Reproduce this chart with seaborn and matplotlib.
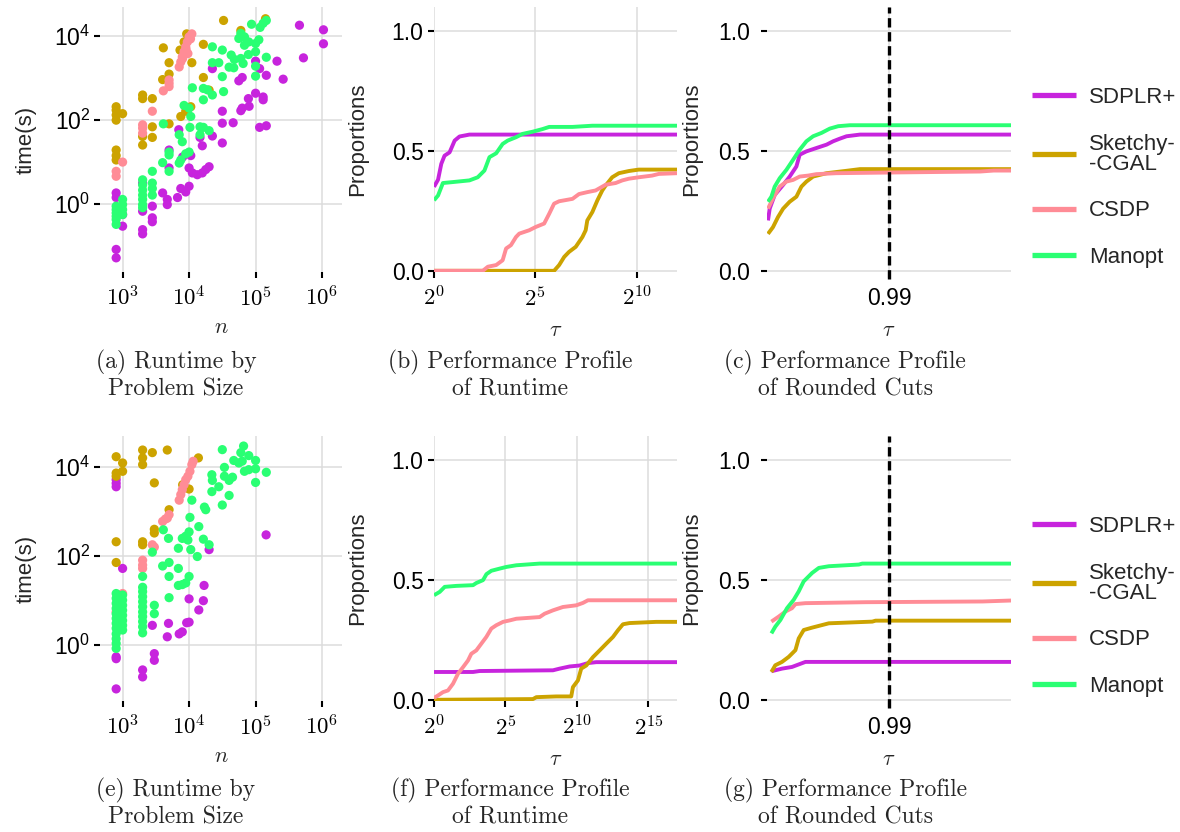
import numpy as np
import pandas as pd
import matplotlib
matplotlib.use("Agg")
import matplotlib.pyplot as plt
import seaborn as sns
from matplotlib.lines import Line2D
from matplotlib.ticker import FixedLocator, NullLocator

# ---------------------------------------------------------------- solvers
SOLVERS = ["SDPLR+", "Sketchy-CGAL", "CSDP", "Manopt"]
LEGEND_LABELS = ["SDPLR+", "Sketchy-\n-CGAL", "CSDP", "Manopt"]
COLORS = ["#C724DD", "#CCA300", "#FF8C96", "#2AFF73"]

# ------------------------------------------------- top row: runtime vs n
top_sdplr_n = [800, 800, 1000, 1000, 800, 800, 2000, 2000, 2000, 2000, 2800, 2800, 2800,
               4000, 4700, 4700, 5000, 5000, 7000, 8000, 10600, 10000, 7500, 8900, 10000, 6700,
               11200, 13300, 15800, 17800, 20000, 15800, 14600, 22400, 22400, 31600, 31600, 31600,
               457000, 1050000, 1050000, 525000, 210000, 100000, 115000, 145000, 260000, 63000,
               56000, 100000, 78000, 130000, 130000, 80000, 63000, 60000, 46000, 115000, 145000]
top_sdplr_t = [1.8, 1.4, 0.55, 0.29, 0.081, 0.051, 3.1, 0.66, 0.24, 0.19, 0.87, 0.46, 0.37,
               1.8, 1.26, 0.95, 19, 7.1, 58, 13, 14, 7.1, 2.3, 1.9, 2.6, 1.4,
               5.4, 4.9, 5.4, 6.5, 7.6, 24, 38, 41, 1660, 160, 83, 28,
               18000, 14000, 6500, 3000, 2500, 2500, 1660, 1150, 930, 1020,
               850, 430, 320, 350, 300, 210, 190, 165, 85, 66, 72]

top_sketchy_n = [800, 800, 800, 800, 800, 800, 800, 1000, 2000, 2000, 2000, 2000,
                 2800, 2800, 2800, 4100, 5000, 5000, 4000, 5000, 7300, 8400, 9200, 7500,
                 8900, 11000, 10600, 16400, 16400, 20000, 33000, 60000, 141000]
top_sketchy_t = [205, 170, 130, 98, 19, 14, 11, 140, 390, 320, 40, 25,
                 320, 68, 38, 5200, 2300, 1230, 910, 80, 4600, 7200, 11200, 120,
                 160, 2300, 205, 6300, 1020, 510, 23400, 13500, 25700]

top_csdp_n = [800, 800, 1000, 2000, 2000, 2000, 2800, 5000, 5000, 5000, 4100,
              7100, 7500, 7900, 8000, 8400, 8900, 9000, 9400, 9600, 10000, 10500, 11000]
top_csdp_t = [5.9, 4.5, 9.8, 76, 63, 48, 160, 890, 740, 620, 490,
              1820, 2400, 3160, 2900, 4200, 5500, 4800, 7200, 3800, 9500, 8500, 11200]

top_manopt_n = [800, 800, 800, 800, 800, 800, 1000, 1000, 1000, 1000,
                2000, 2000, 2000, 2000, 2000, 2000, 2000, 2800, 2800, 2800, 2800,
                4100, 5000, 5000, 4000, 5000, 8400, 10000, 10600, 10300, 7100, 7900, 7500,
                8900, 10000, 7100, 22400, 16400, 11200, 16400, 22400, 18800, 14600, 16400,
                20000, 14600, 22400, 28000, 31600, 31600, 87000, 117000, 130000, 145000,
                60000, 68000, 56000, 79000, 68000, 112000, 100000, 100000, 78000, 145000,
                43000, 48000, 60000, 65000, 40000, 47000, 100000, 100000, 33000]
top_manopt_t = [0.87, 0.72, 0.6, 0.5, 0.42, 0.32, 1.26, 0.95, 0.72, 0.55,
                3.7, 2.8, 2.1, 1.6, 1.26, 0.95, 0.8, 5.9, 3.1, 2.3, 1.6,
                80, 17, 14.5, 9.5, 5.9, 220, 190, 120, 66, 44, 30, 11,
                15.5, 17, 9.3, 5500, 560, 580, 300, 390, 520, 68, 66,
                55, 44, 2300, 2300, 4600, 1070, 19000, 16000, 20000, 23400,
                11500, 9500, 8700, 7200, 6000, 8100, 6600, 4200, 3600, 3100,
                3500, 2750, 2900, 2200, 1800, 1740, 1900, 1100, 470]

# ---------------------------------------------- bottom row: runtime vs n
bot_sdplr_n = [800, 800, 800, 1000, 800, 800, 800, 2000, 2000, 3000, 3000, 2800, 4900, 4700,
               7100, 7900, 9200, 10000, 10000, 14000, 16400, 16800, 20000, 144000]
bot_sdplr_t = [5200, 4300, 3600, 53, 0.55, 0.5, 0.105, 0.28, 0.195, 0.65, 0.46, 2.8, 3.1, 1.55,
               1.8, 2.0, 3.2, 3.3, 11, 6.2, 10, 22, 140, 300]

bot_sketchy_n = [800, 800, 800, 1000, 1000, 800, 800, 2000, 2000, 2000, 2800, 4700, 3000,
                 2000, 2000, 3000, 3000, 5000, 8000, 10000, 13800]
bot_sketchy_t = [17000, 7300, 6200, 12300, 8000, 210, 72, 24000, 16000, 11300, 21000, 24000, 4400,
                 210, 180, 400, 330, 1100, 4000, 3200, 16000]

bot_csdp_n = [1000, 800, 2000, 2000, 2000, 2800, 3000, 4000, 4400, 5000, 4700,
              7100, 7500, 7900, 8400, 8900, 9600, 10300, 11000, 11500]
bot_csdp_t = [14.5, 5.6, 81, 63, 53, 180, 160, 600, 680, 850, 710,
              1800, 2400, 3100, 4000, 5200, 6200, 8000, 11300, 13400]

bot_manopt_n = [800] * 12 + [1000] * 8 + [2000] * 11 + [3000, 3000, 2800,
                4100, 4900, 4000, 5000, 5000, 5000, 6900, 7900, 8900, 10000, 10600, 9600,
                6900, 6900, 7900, 8900, 10000, 10300, 11000, 14000, 16400, 13300, 20000,
                17800, 17000, 22000, 22400, 22000, 28000, 31600, 31600, 66000, 60000, 79000,
                47000, 56000, 63000, 100000, 79000, 68000, 100000, 145000, 34000, 34000,
                45000, 40000, 100000, 40000]
bot_manopt_t = [14.5, 11.3, 8.7, 6.7, 5.1, 4.0, 3.1, 2.4, 1.8, 1.4, 1.1, 0.85,
                13.4, 10.3, 7.9, 6.1, 4.7, 3.6, 2.8, 2.2,
                35, 20, 16, 12.3, 9.5, 7.3, 5.6, 4.4, 3.4, 2.6, 1.9,
                7.9, 5.1, 123, 390, 250, 60, 72, 35, 11.7, 150, 250, 280, 350, 140, 230,
                53, 22, 23, 25, 35, 740, 1800, 460, 240, 98, 180,
                1100, 1260, 6700, 5000, 2800, 3600, 24500, 1400, 29500, 21000, 18000,
                14000, 12300, 13500, 14000, 8700, 8000, 9100, 7600, 9800, 6200,
                5900, 5000, 4500, 2300]

# ------------------------------- performance profiles of runtime (log2 tau)
b_sdplr_x = [0, 0.2, 0.36, 0.52, 0.77, 1.02, 1.26, 1.75, 12]
b_sdplr_y = [0.35, 0.38, 0.446, 0.48, 0.494, 0.543, 0.56, 0.568, 0.568]
b_sketchy_x = [0, 5.93, 6.18, 6.43, 6.67, 7.0, 7.33, 7.49, 7.57, 7.82, 8.07, 8.31, 8.48, 8.8,
               9.13, 9.62, 10.11, 12]
b_sketchy_y = [0, 0, 0.024, 0.058, 0.079, 0.1, 0.141, 0.169, 0.21, 0.245, 0.294, 0.335, 0.356,
               0.39, 0.407, 0.416, 0.422, 0.422]
b_csdp_x = [0, 2.41, 2.66, 3.07, 3.39, 3.56, 3.8, 4.05, 4.21, 4.7, 5.03, 5.44, 5.69, 5.93, 6.18,
            6.84, 7.16, 7.57, 7.98, 8.48, 8.97, 9.3, 9.62, 10.11, 10.77, 11.1, 12]
b_csdp_y = [0, 0, 0.017, 0.024, 0.044, 0.093, 0.107, 0.141, 0.155, 0.169, 0.183, 0.197, 0.238,
            0.28, 0.29, 0.3, 0.32, 0.328, 0.335, 0.359, 0.366, 0.377, 0.384, 0.39, 0.397, 0.404, 0.407]
b_manopt_x = [0, 0.2, 0.44, 0.93, 1.75, 2.16, 2.49, 2.74, 3.07, 3.39, 3.64, 4.05, 4.38, 4.87,
              5.36, 5.69, 6.84, 7.82, 12]
b_manopt_y = [0.294, 0.314, 0.366, 0.37, 0.377, 0.39, 0.418, 0.474, 0.49, 0.529, 0.543, 0.557,
              0.571, 0.58, 0.591, 0.6, 0.6, 0.605, 0.605]

f_sdplr_x = [0, 2.73, 3.19, 8.32, 8.79, 9.49, 10.19, 10.77, 11.35, 17]
f_sdplr_y = [0.116, 0.116, 0.12, 0.123, 0.13, 0.139, 0.143, 0.153, 0.157, 0.157]
f_sketchy_x = [0, 6.92, 7.16, 8.55, 9.6, 9.72, 10.07, 10.3, 10.65, 11.12, 11.59, 12.05, 12.52,
               12.87, 13.22, 13.68, 15.55, 17]
f_sketchy_y = [0, 0.003, 0.011, 0.014, 0.014, 0.053, 0.081, 0.13, 0.143, 0.178, 0.206, 0.234,
               0.262, 0.29, 0.315, 0.32, 0.325, 0.325]
f_csdp_x = [0, 0.28, 0.63, 0.98, 1.33, 1.68, 2.03, 2.38, 2.61, 2.96, 3.31, 3.66, 4.01, 4.36,
            4.83, 5.29, 5.76, 6.46, 7.39, 7.74, 8.32, 9.02, 9.95, 10.42, 10.77, 17]
f_csdp_y = [0.008, 0.018, 0.032, 0.039, 0.067, 0.109, 0.136, 0.164, 0.192, 0.206, 0.234, 0.262,
            0.297, 0.311, 0.325, 0.331, 0.338, 0.341, 0.345, 0.359, 0.373, 0.387, 0.394, 0.404,
            0.415, 0.415]
f_manopt_x = [0, 0.4, 0.75, 1.56, 2.73, 2.96, 3.43, 3.67, 4.01, 4.59, 5.06, 5.76, 6.69, 7.39, 17]
f_manopt_y = [0.436, 0.45, 0.471, 0.475, 0.478, 0.487, 0.499, 0.524, 0.538, 0.547, 0.554, 0.561,
              0.565, 0.568, 0.568]

# ------------------------------- performance profiles of rounded cuts
c_sdplr_x = [0.98008, 0.98022, 0.98063, 0.98132, 0.98186, 0.98241, 0.98268, 0.98323, 0.98405,
             0.98488, 0.98542, 0.98597, 0.98652, 0.98762, 1.0]
c_sdplr_y = [0.21, 0.259, 0.316, 0.358, 0.393, 0.435, 0.484, 0.498, 0.512, 0.526, 0.54, 0.551,
             0.561, 0.568, 0.568]
c_sketchy_x = [0.98008, 0.98049, 0.9809, 0.98132, 0.98186, 0.98241, 0.98282, 0.98323, 0.98378,
               0.98488, 0.98652, 0.98762, 1.0]
c_sketchy_y = [0.154, 0.182, 0.224, 0.259, 0.288, 0.309, 0.351, 0.372, 0.393, 0.407, 0.417,
               0.424, 0.424]
c_csdp_x = [0.98008, 0.98049, 0.98104, 0.98159, 0.98214, 0.98268, 0.98337, 0.98405, 0.9857,
            0.99036, 0.99748, 0.99858, 1.0]
c_csdp_y = [0.259, 0.302, 0.351, 0.372, 0.379, 0.393, 0.397, 0.403, 0.407, 0.41, 0.414, 0.418, 0.418]
c_manopt_x = [0.98008, 0.98036, 0.98063, 0.98104, 0.98159, 0.98214, 0.98268, 0.98323, 0.98378,
              0.98447, 0.98515, 0.98584, 0.98679, 1.0]
c_manopt_y = [0.288, 0.309, 0.351, 0.386, 0.421, 0.463, 0.505, 0.54, 0.561, 0.575, 0.593, 0.603,
              0.607, 0.607]

g_sdplr_x = [0.98036, 0.98123, 0.98205, 0.98315, 1.0]
g_sdplr_y = [0.119, 0.13, 0.137, 0.158, 0.158]
g_sketchy_x = [0.98036, 0.98068, 0.98123, 0.98178, 0.98233, 0.9826, 0.98301, 0.9837, 0.98507,
               0.98863, 0.9889, 1.0]
g_sketchy_y = [0.116, 0.144, 0.158, 0.179, 0.207, 0.256, 0.291, 0.301, 0.319, 0.326, 0.33, 0.33]
g_csdp_x = [0.98036, 0.98096, 0.98151, 0.98205, 0.98233, 0.98315, 0.98808, 0.99767, 1.0]
g_csdp_y = [0.326, 0.347, 0.368, 0.382, 0.399, 0.403, 0.407, 0.41, 0.414]
g_manopt_x = [0.98036, 0.98068, 0.9811, 0.98164, 0.98219, 0.9826, 0.98301, 0.9837, 0.98425,
              0.98507, 0.98753, 0.98781, 1.0]
g_manopt_y = [0.277, 0.305, 0.333, 0.382, 0.417, 0.452, 0.494, 0.529, 0.55, 0.557, 0.564, 0.568,
              0.568]

# tick labels
SIZE_TICKS = [1e3, 1e4, 1e5, 1e6]
SIZE_LABELS = [r"$10^{3}$", r"$10^{4}$", r"$10^{5}$", r"$10^{6}$"]
TIME_TICKS = [1e0, 1e2, 1e4]
TIME_LABELS = [r"$10^{0}$", r"$10^{2}$", r"$10^{4}$"]
PROP_TICKS = [0.0, 0.5, 1.0]
PROP_LABELS = ["0.0", "0.5", "1.0"]
CUT_TICKS = [0.99]
CUT_LABELS = ["0.99"]
CAPTIONS = [
    "(a) Runtime by\nProblem Size", "(b) Performance Profile\nof Runtime",
    "(c) Performance Profile\nof Rounded Cuts",
    "(e) Runtime by\nProblem Size", "(f) Performance Profile\nof Runtime",
    "(g) Performance Profile\nof Rounded Cuts",
]

# ---------------------------------------------------------------- style
sns.set_theme(style="white")
plt.rcParams.update({
    "font.family": ["Liberation Sans", "DejaVu Sans"],
    "mathtext.fontset": "custom",
    "mathtext.rm": "Liberation Sans",
    "mathtext.it": "Liberation Sans:italic",
    "mathtext.bf": "Liberation Sans:bold",
    "axes.unicode_minus": False,
})
PALETTE = dict(zip(SOLVERS, COLORS))
GRID = "#DCDCDC"
TICK_FS = 16.5
LABEL_FS = 16
CAPTION_FS = 17


def scatter_frame(ns_ts):
    frames = []
    for solver, (ns, ts) in zip(SOLVERS, ns_ts):
        frames.append(pd.DataFrame({"solver": solver, "n": ns, "t": ts}))
    return pd.concat(frames, ignore_index=True)


def profile_frame(xs_ys):
    frames = []
    for solver, (xs, ys) in zip(SOLVERS, xs_ys):
        frames.append(pd.DataFrame({"solver": solver, "x": xs, "y": ys}))
    return pd.concat(frames, ignore_index=True)


def base_style(ax, ypad):
    for s in ax.spines.values():
        s.set_visible(False)
    ax.set_facecolor("white")
    ax.grid(True, which="major", color=GRID, lw=1.1)
    ax.set_axisbelow(True)
    ax.tick_params(which="major", left=True, bottom=True, length=4.5, width=1.5,
                   color="black", labelsize=TICK_FS, labelcolor="black", direction="out")
    ax.tick_params(axis="y", pad=ypad)
    ax.tick_params(axis="x", pad=6)
    ax.tick_params(which="minor", length=0)


def cm_ticklabels(labels):
    for lab in labels:
        lab.set_math_fontfamily("cm")


def set_labels(ax, xlabel, ylabel, ylab_x, xlab_y):
    ax.set_xlabel(xlabel, fontsize=LABEL_FS, math_fontfamily="cm")
    ax.set_ylabel(ylabel, fontsize=LABEL_FS)
    ax.xaxis.label.set_va("center")
    ax.yaxis.label.set_va("center")
    ax.xaxis.set_label_coords(0.5, xlab_y)
    ax.yaxis.set_label_coords(ylab_x, 0.5)


def runtime_panel(ax, df, ylim):
    sns.scatterplot(data=df, x="n", y="t", hue="solver", palette=PALETTE,
                    s=44, linewidth=0, alpha=1.0, legend=False, ax=ax)
    ax.set_xscale("log")
    ax.set_yscale("log")
    ax.set_xlim(10 ** 2.66, 10 ** 6.3)
    ax.set_ylim(*ylim)
    base_style(ax, ypad=2.5)
    ax.xaxis.set_major_locator(FixedLocator(SIZE_TICKS))
    ax.yaxis.set_major_locator(FixedLocator(TIME_TICKS))
    ax.xaxis.set_minor_locator(NullLocator())
    ax.yaxis.set_minor_locator(NullLocator())
    ax.set_xticks(SIZE_TICKS, SIZE_LABELS)
    ax.set_yticks(TIME_TICKS, TIME_LABELS)
    cm_ticklabels(ax.get_xticklabels())
    set_labels(ax, r"$n$", "time(s)", -0.306, -0.211)


def runtime_profile_panel(ax, df, max_exp, tick_exps):
    df = df.assign(tau=np.exp2(df["x"]))
    sns.lineplot(data=df, x="tau", y="y", hue="solver", palette=PALETTE,
                 hue_order=SOLVERS, estimator=None, sort=False, legend=False,
                 lw=2.8, solid_capstyle="butt", ax=ax)
    ax.set_xscale("log", base=2)
    ax.set_xlim(1, 2.0 ** max_exp)
    ax.set_ylim(-0.005, 1.1)
    base_style(ax, ypad=3)
    ax.xaxis.set_minor_locator(NullLocator())
    ax.set_xticks([2.0 ** e for e in tick_exps], [rf"$2^{{{e}}}$" for e in tick_exps])
    ax.set_yticks(PROP_TICKS, PROP_LABELS)
    cm_ticklabels(ax.get_xticklabels())
    set_labels(ax, r"$\tau$", "Proportions", -0.313, -0.219)


def cut_profile_panel(ax, df):
    sns.lineplot(data=df, x="x", y="y", hue="solver", palette=PALETTE,
                 hue_order=SOLVERS, estimator=None, sort=False, legend=False,
                 lw=2.8, solid_capstyle="butt", ax=ax)
    ax.set_xlim(0.98, 1.0)
    ax.set_ylim(-0.005, 1.1)
    base_style(ax, ypad=8)
    ax.set_xticks(CUT_TICKS, CUT_LABELS)
    ax.set_yticks(PROP_TICKS, PROP_LABELS)
    ax.axvline(CUT_TICKS[0], ymin=-0.025, ymax=1.0, color="black", lw=2.4,
               ls=(0, (2.8, 1.4)), clip_on=False, zorder=5)
    set_labels(ax, r"$\tau$", "Proportions", -0.307, -0.219)


fig = plt.figure(figsize=(11.8, 8.32), dpi=100)
fig.patch.set_facecolor("white")

H = 265 / 832
ROW_BOTTOM = [1 - 272 / 832, 1 - 701 / 832]
COL_LEFT = [100 / 1180, 434 / 1180, 767 / 1180]
COL_W = [242 / 1180, 243 / 1180, 244 / 1180]
axes = [[fig.add_axes([COL_LEFT[c], ROW_BOTTOM[r], COL_W[c], H]) for c in range(3)]
        for r in range(2)]

runtime_panel(axes[0][0], scatter_frame([(top_sdplr_n, top_sdplr_t),
                                          (top_sketchy_n, top_sketchy_t),
                                          (top_csdp_n, top_csdp_t),
                                          (top_manopt_n, top_manopt_t)]),
              (10 ** -1.63, 10 ** 4.69))
runtime_panel(axes[1][0], scatter_frame([(bot_sdplr_n, bot_sdplr_t),
                                          (bot_sketchy_n, bot_sketchy_t),
                                          (bot_csdp_n, bot_csdp_t),
                                          (bot_manopt_n, bot_manopt_t)]),
              (10 ** -1.25, 10 ** 4.695))

runtime_profile_panel(axes[0][1], profile_frame([(b_sdplr_x, b_sdplr_y),
                                                  (b_sketchy_x, b_sketchy_y),
                                                  (b_csdp_x, b_csdp_y),
                                                  (b_manopt_x, b_manopt_y)]),
                      12, [0, 5, 10])
runtime_profile_panel(axes[1][1], profile_frame([(f_sdplr_x, f_sdplr_y),
                                                  (f_sketchy_x, f_sketchy_y),
                                                  (f_csdp_x, f_csdp_y),
                                                  (f_manopt_x, f_manopt_y)]),
                      17, [0, 5, 10, 15])

cut_profile_panel(axes[0][2], profile_frame([(c_sdplr_x, c_sdplr_y),
                                              (c_sketchy_x, c_sketchy_y),
                                              (c_csdp_x, c_csdp_y),
                                              (c_manopt_x, c_manopt_y)]))
cut_profile_panel(axes[1][2], profile_frame([(g_sdplr_x, g_sdplr_y),
                                              (g_sketchy_x, g_sketchy_y),
                                              (g_csdp_x, g_csdp_y),
                                              (g_manopt_x, g_manopt_y)]))

# legends to the right of each row
handles = [Line2D([], [], color=c, lw=3.8, solid_capstyle="butt") for c in COLORS]
for yc in (1 - 177.5 / 832, 1 - 606.5 / 832):
    leg = fig.legend(handles, LEGEND_LABELS, loc="center left",
                     bbox_to_anchor=(1032 / 1180, yc), frameon=False, fontsize=16,
                     handlelength=2.0, handletextpad=0.55, labelspacing=1.15,
                     borderpad=0, borderaxespad=0)
    for txt in leg.get_texts():
        txt.set_linespacing(0.95)

# sub-figure captions
CAP_X = [176 / 1180, 510 / 1180, 845 / 1180]
CAP_Y = [1 - 375.5 / 832, 1 - 803.5 / 832]
for i, text in enumerate(CAPTIONS):
    fig.text(CAP_X[i % 3], CAP_Y[i // 3], text, ha="center", va="center",
             family="cmr10", fontsize=CAPTION_FS, linespacing=1.22)

fig.savefig("out.png", dpi=100, facecolor="white")
